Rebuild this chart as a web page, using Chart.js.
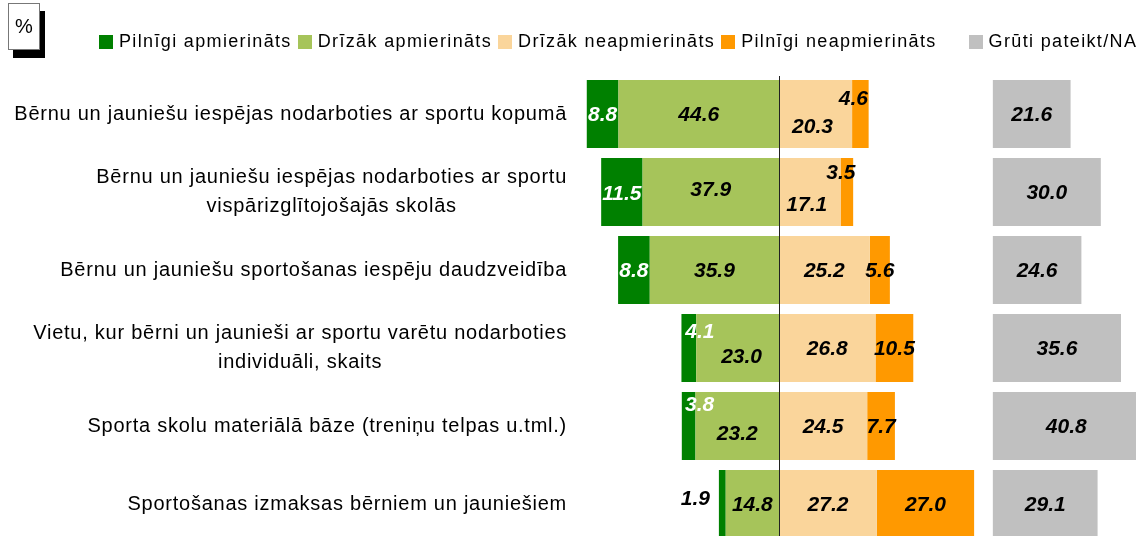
<!DOCTYPE html>
<html>
<head>
<meta charset="utf-8">
<script src="https://cdn.jsdelivr.net/npm/chart.js@4.4.1/dist/chart.umd.min.js"></script>
<style>
  html, body { margin: 0; padding: 0; background: #fff; overflow: hidden; }
  #wrap { position: relative; width: 1136px; height: 543px; }
  #pct {
    position: absolute; left: 8px; top: 3px; width: 30px; height: 45px;
    border: 1px solid #777; background: #fff; box-shadow: 5px 8px 0 #000;
    font: 20px "Liberation Sans", Arial, sans-serif; text-align: center; line-height: 44px;
  }
  #legend {
    position: absolute; left: 99px; top: 31px; width: 1100px; display: flex; align-items: center;
    font: 18px "Liberation Sans", Arial, sans-serif; letter-spacing: 1.35px; color: #000;
    white-space: nowrap;
  }
  .item { display: flex; align-items: center; margin-right: 6px; flex-shrink: 0; }
  .item.na { margin-left: 26px; }
  .sw { width: 14px; height: 14px; margin-right: 6px; flex-shrink: 0; }
</style>
</head>
<body>
<div id="wrap">
  <canvas id="chart" width="1136" height="543"></canvas>
  <div id="pct">%</div>
  <div id="legend"></div>
</div>
<script>
const categories = [
  'Bērnu un jauniešu iespējas nodarboties ar sportu kopumā',
  ['Bērnu un jauniešu iespējas nodarboties ar sportu', 'vispārizglītojošajās skolās'],
  'Bērnu un jauniešu sportošanas iespēju daudzveidība',
  ['Vietu, kur bērni un jaunieši ar sportu varētu nodarboties', 'individuāli, skaits'],
  'Sporta skolu materiālā bāze (treniņu telpas u.tml.)',
  'Sportošanas izmaksas bērniem un jauniešiem'
];
const seriesNames = ['Pilnīgi apmierināts', 'Drīzāk apmierināts', 'Drīzāk neapmierināts', 'Pilnīgi neapmierināts', 'Grūti pateikt/NA'];
const fullySatisfied = [8.8, 11.5, 8.8, 4.1, 3.8, 1.9];
const ratherSatisfied = [44.6, 37.9, 35.9, 23.0, 23.2, 14.8];
const ratherDissatisfied = [20.3, 17.1, 25.2, 26.8, 24.5, 27.2];
const fullyDissatisfied = [4.6, 3.5, 5.6, 10.5, 7.7, 27.0];
const hardToSay = [21.6, 30.0, 24.6, 35.6, 40.8, 29.1];

const colors = ['#008000', '#a6c45a', '#fad59b', '#ff9900', '#c0c0c0'];

// layout
const NA_START = 59.4;       // where the grey block starts on the x axis
const LABEL_RIGHT = 567;
const labelFont = 'italic bold 21px "Liberation Sans", Arial, sans-serif';
// manual label nudges (series-index): dx, dy, colour
const nudges = {
  '0-1': { dy: 1 }, '0-3': { dx: 11, dy: -17 }, '0-4': { dx: 11, dy: -22 },
  '0-5': { dx: -27, dy: -6, color: '#000' },
  '1-1': { dy: -3 }, '1-3': { dx: 4, dy: 8 }, '1-4': { dy: 7 },
  '2-0': { dx: -3, dy: 12 }, '2-1': { dx: -3, dy: 12 },
  '3-0': { dx: -7, dy: -16 }, '3-1': { dx: -6, dy: -20 }
};

const shown = [fullySatisfied, ratherSatisfied, ratherDissatisfied, fullyDissatisfied, hardToSay];

// negative stack grows outward in dataset order, so "rather" comes before "fully"
const datasets = [
  { series: 1, data: ratherSatisfied.map(v => -v), stack: 'main' },
  { series: 0, data: fullySatisfied.map(v => -v), stack: 'main' },
  { series: 2, data: ratherDissatisfied, stack: 'main' },
  { series: 3, data: fullyDissatisfied, stack: 'main' },
  { series: 4, data: hardToSay.map(v => [NA_START, NA_START + v]), stack: 'na' }
].map(d => ({ ...d, label: seriesNames[d.series], backgroundColor: colors[d.series], borderWidth: 0,
  grouped: false, barPercentage: 1, categoryPercentage: 0.872 }));

const sideLabels = {
  id: 'sideLabels',
  afterDraw(chart) {
    const { ctx } = chart;
    const y = chart.scales.y;
    ctx.save();
    ctx.font = '20px "Liberation Sans", Arial, sans-serif';
    ctx.letterSpacing = '0.75px';
    ctx.fillStyle = '#000';
    ctx.textAlign = 'center';
    ctx.textBaseline = 'middle';
    categories.forEach((lab, i) => {
      const lines = Array.isArray(lab) ? lab : [lab];
      const w = Math.max(...lines.map(l => ctx.measureText(l).width));
      const cx = LABEL_RIGHT - w / 2;
      const cy = y.getPixelForValue(i);
      lines.forEach((l, k) => ctx.fillText(l, cx, cy + (k - (lines.length - 1) / 2) * 29));
    });
    ctx.restore();
  }
};

const barLabels = {
  id: 'barLabels',
  afterDatasetsDraw(chart) {
    const { ctx, chartArea } = chart;
    const x0 = Math.round(chart.scales.x.getPixelForValue(0)) + 0.5;
    ctx.save();
    ctx.strokeStyle = '#222';
    ctx.lineWidth = 1;
    ctx.beginPath();
    ctx.moveTo(x0, chartArea.top + 1);
    ctx.lineTo(x0, chartArea.bottom);
    ctx.stroke();

    ctx.font = labelFont;
    ctx.textAlign = 'center';
    ctx.textBaseline = 'middle';
    chart.data.datasets.forEach((ds, di) => {
      const s = ds.series;
      chart.getDatasetMeta(di).data.forEach((bar, i) => {
        const n = nudges[s + '-' + i] || {};
        ctx.fillStyle = n.color || (s === 0 ? '#fff' : '#000');
        const cx = (bar.x + bar.base) / 2 + (n.dx || 0);
        ctx.fillText(shown[s][i].toFixed(1), cx, bar.y + 1 + (n.dy || 0));
      });
    });
    ctx.restore();
  }
};

new Chart(document.getElementById('chart'), {
  type: 'bar',
  data: { labels: categories, datasets },
  options: {
    indexAxis: 'y',
    responsive: false,
    animation: false,
    layout: { padding: { top: 75 } },
    plugins: { legend: { display: false }, tooltip: { enabled: false } },
    scales: {
      x: { stacked: true, display: false, min: -58.06, max: 99.17 },
      y: {
        stacked: true,
        ticks: { display: false },
        grid: { display: false },
        border: { display: false },
        afterFit(s) { s.width = 570; }
      }
    }
  },
  plugins: [barLabels, sideLabels]
});

const legend = document.getElementById('legend');
seriesNames.forEach((name, i) => {
  const it = document.createElement('div');
  it.className = 'item' + (i === 4 ? ' na' : '');
  it.innerHTML = '<span class="sw" style="background:' + colors[i] + '"></span><span>' + name + '</span>';
  legend.appendChild(it);
});
</script>
</body>
</html>
